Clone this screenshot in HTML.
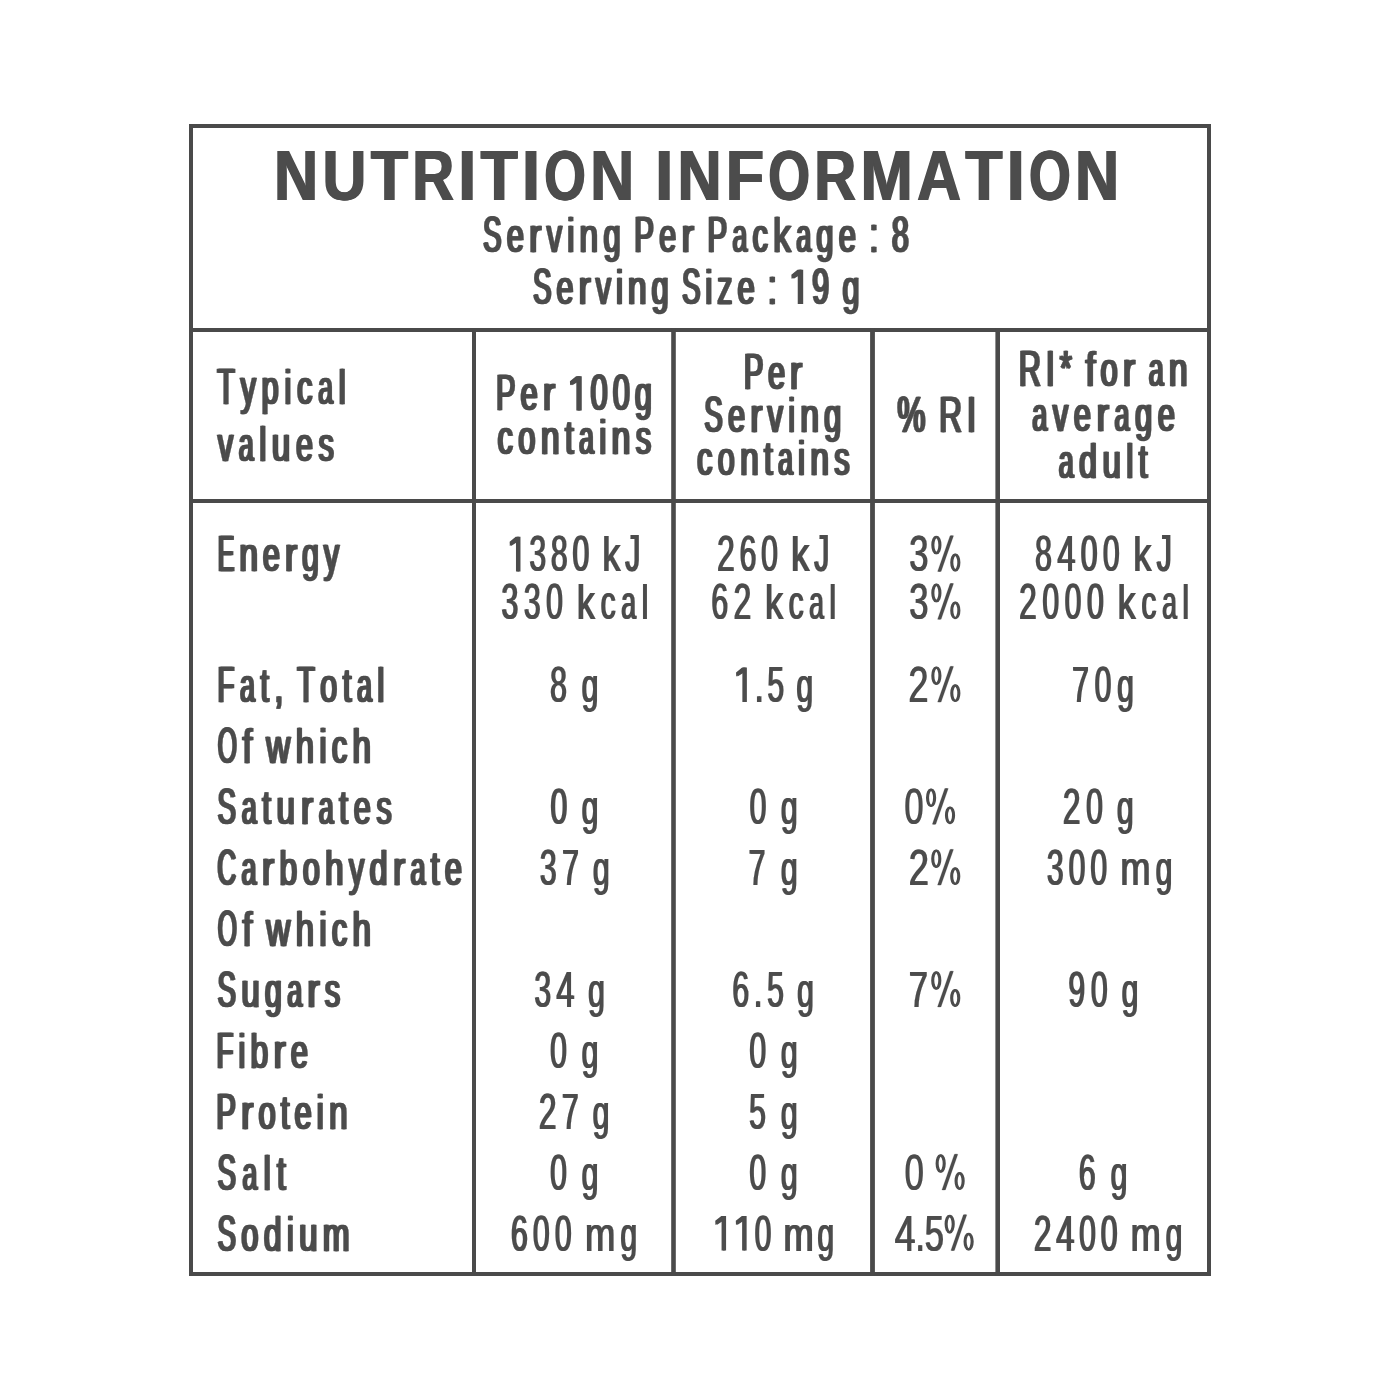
<!DOCTYPE html>
<html><head><meta charset="utf-8"><title>Nutrition Information</title>
<style>
html,body{margin:0;padding:0;background:#fff;}
body{width:1400px;height:1400px;overflow:hidden;}
svg{display:block;filter:grayscale(100%);}
text{font-family:"Liberation Sans",sans-serif;font-kerning:none;}
</style></head>
<body>
<svg width="1400" height="1400" viewBox="0 0 1400 1400">
<rect x="0" y="0" width="1400" height="1400" fill="#ffffff"/>
<g fill="#4a4a4a">
<rect x="189" y="124" width="1022" height="4"/>
<rect x="189" y="1272" width="1022" height="4"/>
<rect x="189" y="124" width="4" height="1152"/>
<rect x="1207" y="124" width="4" height="1152"/>
<rect x="189" y="328" width="1022" height="4"/>
<rect x="189" y="499" width="1022" height="4"/>
<rect x="472" y="328" width="4" height="948"/>
<rect x="671.2" y="328" width="4.6" height="948"/>
<rect x="870.1" y="328" width="4.8" height="948"/>
<rect x="995.4" y="328" width="4.6" height="948"/>
</g>
<g fill="#4c4c4e">
<g id="g0" font-weight="bold">
<text transform="translate(273.36 199.70) scale(0.8700 1.0)" font-size="69.8">N</text>
<text transform="translate(321.64 199.70) scale(0.8700 1.0)" font-size="69.8">U</text>
<text transform="translate(369.93 199.70) scale(0.8700 1.0)" font-size="69.8">T</text>
<text transform="translate(411.46 199.70) scale(0.8265 1.0)" font-size="69.8">R</text>
<text transform="translate(457.56 199.70) scale(0.9135 1.0)" font-size="69.8">I</text>
<text transform="translate(479.71 199.70) scale(0.8700 1.0)" font-size="69.8">T</text>
<text transform="translate(521.23 199.70) scale(0.9135 1.0)" font-size="69.8">I</text>
<text transform="translate(543.38 199.70) scale(0.7656 1.0)" font-size="69.8">O</text>
<text transform="translate(589.38 199.70) scale(0.8700 1.0)" font-size="69.8">N</text>
<text transform="translate(654.54 199.70) scale(0.9135 1.0)" font-size="69.8">I</text>
<text transform="translate(676.69 199.70) scale(0.8700 1.0)" font-size="69.8">N</text>
<text transform="translate(724.98 199.70) scale(0.8961 1.0)" font-size="69.8">F</text>
<text transform="translate(767.62 199.70) scale(0.7656 1.0)" font-size="69.8">O</text>
<text transform="translate(813.62 199.70) scale(0.8265 1.0)" font-size="69.8">R</text>
<text transform="translate(859.72 199.70) scale(0.8961 1.0)" font-size="69.8">M</text>
<text transform="translate(916.25 199.70) scale(0.8700 1.0)" font-size="69.8">A</text>
<text transform="translate(964.54 199.70) scale(0.8700 1.0)" font-size="69.8">T</text>
<text transform="translate(1006.07 199.70) scale(0.9135 1.0)" font-size="69.8">I</text>
<text transform="translate(1028.22 199.70) scale(0.7656 1.0)" font-size="69.8">O</text>
<text transform="translate(1074.22 199.70) scale(0.8700 1.0)" font-size="69.8">N</text>
</g>
<use href="#g0" x="0.850" y="0"/>
<use href="#g0" x="1.700" y="0"/>
<g id="g1" font-weight="normal" stroke="#4c4c4e" stroke-width="0.5" stroke-linejoin="round">
<text transform="translate(482.05 251.90) scale(0.5400 1.0)" font-size="50.8">S</text>
<text transform="translate(505.73 251.90) scale(0.6000 0.94)" font-size="50.8">e</text>
<text transform="translate(528.07 251.90) scale(0.7200 0.94)" font-size="50.8">r</text>
<text transform="translate(545.63 251.90) scale(0.6000 0.94)" font-size="50.8">v</text>
<text transform="translate(566.25 251.90) scale(0.6000 0.94)" font-size="50.8">i</text>
<text transform="translate(578.41 251.90) scale(0.6600 0.94)" font-size="50.8">n</text>
<text transform="translate(602.43 251.90) scale(0.6000 0.94)" font-size="50.8">g</text>
<text transform="translate(633.24 251.90) scale(0.5760 1.0)" font-size="50.8">P</text>
<text transform="translate(658.14 251.90) scale(0.6000 0.94)" font-size="50.8">e</text>
<text transform="translate(680.47 251.90) scale(0.7200 0.94)" font-size="50.8">r</text>
<text transform="translate(706.50 251.90) scale(0.5760 1.0)" font-size="50.8">P</text>
<text transform="translate(731.40 251.90) scale(0.5220 0.94)" font-size="50.8">a</text>
<text transform="translate(751.53 251.90) scale(0.6000 0.94)" font-size="50.8">c</text>
<text transform="translate(772.15 251.90) scale(0.6960 0.94)" font-size="50.8">k</text>
<text transform="translate(795.21 251.90) scale(0.5220 0.94)" font-size="50.8">a</text>
<text transform="translate(815.34 251.90) scale(0.6000 0.94)" font-size="50.8">g</text>
<text transform="translate(837.68 251.90) scale(0.6000 0.94)" font-size="50.8">e</text>
<text transform="translate(868.48 251.90) scale(0.6000 1.0)" font-size="50.8">:</text>
<text transform="translate(890.80 251.90) scale(0.6000 0.975)" font-size="50.8">8</text>
<text transform="translate(532.05 303.90) scale(0.5400 1.0)" font-size="50.8">S</text>
<text transform="translate(555.41 303.90) scale(0.6000 0.94)" font-size="50.8">e</text>
<text transform="translate(577.42 303.90) scale(0.7200 0.94)" font-size="50.8">r</text>
<text transform="translate(594.66 303.90) scale(0.6000 0.94)" font-size="50.8">v</text>
<text transform="translate(614.95 303.90) scale(0.6000 0.94)" font-size="50.8">i</text>
<text transform="translate(626.78 303.90) scale(0.6600 0.94)" font-size="50.8">n</text>
<text transform="translate(650.49 303.90) scale(0.6000 0.94)" font-size="50.8">g</text>
<text transform="translate(680.97 303.90) scale(0.5400 1.0)" font-size="50.8">S</text>
<text transform="translate(704.32 303.90) scale(0.6000 0.94)" font-size="50.8">i</text>
<text transform="translate(716.15 303.90) scale(0.6000 0.94)" font-size="50.8">z</text>
<text transform="translate(736.45 303.90) scale(0.6000 0.94)" font-size="50.8">e</text>
<text transform="translate(766.93 303.90) scale(0.6000 1.0)" font-size="50.8">:</text>
<path transform="translate(788.92 303.90) scale(0.01488 -0.02418)" d="M811 0L593 0L593 1200L175 1040L163 1210L575 1409L811 1409Z"/>
<text transform="translate(810.93 303.90) scale(0.6000 0.975)" font-size="50.8">9</text>
<text transform="translate(841.41 303.90) scale(0.6000 0.94)" font-size="50.8">g</text>
<text transform="translate(216.28 403.60) scale(0.5580 1.0)" font-size="50.8">T</text>
<text transform="translate(239.47 403.60) scale(0.6000 0.94)" font-size="50.8">y</text>
<text transform="translate(260.58 403.60) scale(0.6000 0.94)" font-size="50.8">p</text>
<text transform="translate(283.40 403.60) scale(0.6000 0.94)" font-size="50.8">i</text>
<text transform="translate(296.04 403.60) scale(0.6000 0.94)" font-size="50.8">c</text>
<text transform="translate(317.15 403.60) scale(0.5220 0.94)" font-size="50.8">a</text>
<text transform="translate(337.77 403.60) scale(0.6000 0.94)" font-size="50.8">l</text>
<text transform="translate(216.85 460.70) scale(0.6000 0.94)" font-size="50.8">v</text>
<text transform="translate(237.84 460.70) scale(0.5220 0.94)" font-size="50.8">a</text>
<text transform="translate(258.34 460.70) scale(0.6000 0.94)" font-size="50.8">l</text>
<text transform="translate(270.86 460.70) scale(0.6480 0.94)" font-size="50.8">u</text>
<text transform="translate(294.92 460.70) scale(0.6000 0.94)" font-size="50.8">e</text>
<text transform="translate(317.62 460.70) scale(0.6000 0.94)" font-size="50.8">s</text>
<text transform="translate(494.91 410.40) scale(0.5760 1.0)" font-size="50.8">P</text>
<text transform="translate(519.58 410.40) scale(0.6000 0.94)" font-size="50.8">e</text>
<text transform="translate(541.69 410.40) scale(0.7200 0.94)" font-size="50.8">r</text>
<path transform="translate(567.49 410.40) scale(0.01488 -0.02418)" d="M811 0L593 0L593 1200L175 1040L163 1210L575 1409L811 1409Z"/>
<text transform="translate(589.60 410.40) scale(0.6000 0.975)" font-size="50.8">0</text>
<text transform="translate(611.70 410.40) scale(0.6000 0.975)" font-size="50.8">0</text>
<text transform="translate(633.81 410.40) scale(0.6000 0.94)" font-size="50.8">g</text>
<text transform="translate(496.53 453.90) scale(0.6000 0.94)" font-size="50.8">c</text>
<text transform="translate(517.30 453.90) scale(0.6000 0.94)" font-size="50.8">o</text>
<text transform="translate(539.79 453.90) scale(0.6600 0.94)" font-size="50.8">n</text>
<text transform="translate(563.96 453.90) scale(0.6000 0.94)" font-size="50.8">t</text>
<text transform="translate(577.96 453.90) scale(0.5220 0.94)" font-size="50.8">a</text>
<text transform="translate(598.24 453.90) scale(0.6000 0.94)" font-size="50.8">i</text>
<text transform="translate(610.55 453.90) scale(0.6600 0.94)" font-size="50.8">n</text>
<text transform="translate(634.72 453.90) scale(0.6000 0.94)" font-size="50.8">s</text>
<text transform="translate(742.81 388.60) scale(0.5760 1.0)" font-size="50.8">P</text>
<text transform="translate(767.07 388.60) scale(0.6000 0.94)" font-size="50.8">e</text>
<text transform="translate(788.77 388.60) scale(0.7200 0.94)" font-size="50.8">r</text>
<text transform="translate(703.35 432.10) scale(0.5400 1.0)" font-size="50.8">S</text>
<text transform="translate(726.93 432.10) scale(0.6000 0.94)" font-size="50.8">e</text>
<text transform="translate(749.16 432.10) scale(0.7200 0.94)" font-size="50.8">r</text>
<text transform="translate(766.62 432.10) scale(0.6000 0.94)" font-size="50.8">v</text>
<text transform="translate(787.13 432.10) scale(0.6000 0.94)" font-size="50.8">i</text>
<text transform="translate(799.18 432.10) scale(0.6600 0.94)" font-size="50.8">n</text>
<text transform="translate(823.11 432.10) scale(0.6000 0.94)" font-size="50.8">g</text>
<text transform="translate(696.03 475.40) scale(0.6000 0.94)" font-size="50.8">c</text>
<text transform="translate(716.67 475.40) scale(0.6000 0.94)" font-size="50.8">o</text>
<text transform="translate(739.03 475.40) scale(0.6600 0.94)" font-size="50.8">n</text>
<text transform="translate(763.08 475.40) scale(0.6000 0.94)" font-size="50.8">t</text>
<text transform="translate(776.95 475.40) scale(0.5220 0.94)" font-size="50.8">a</text>
<text transform="translate(797.10 475.40) scale(0.6000 0.94)" font-size="50.8">i</text>
<text transform="translate(809.27 475.40) scale(0.6600 0.94)" font-size="50.8">n</text>
<text transform="translate(833.32 475.40) scale(0.6000 0.94)" font-size="50.8">s</text>
<text transform="translate(896.31 432.10) scale(0.6200 1.0)" font-size="50.8">%</text>
<text transform="translate(938.14 432.10) scale(0.6200 1.0)" font-size="50.8">R</text>
<text transform="translate(965.96 432.10) scale(0.6200 1.0)" font-size="50.8">I</text>
<text transform="translate(1017.71 386.40) scale(0.6000 1.0)" font-size="50.8">R</text>
<text transform="translate(1045.04 386.40) scale(0.6000 1.0)" font-size="50.8">I</text>
<text transform="translate(1058.82 386.40) scale(0.6000 1.0)" font-size="50.8">*</text>
<text transform="translate(1084.47 386.40) scale(0.6900 0.94)" font-size="50.8">f</text>
<text transform="translate(1099.52 386.40) scale(0.6000 0.94)" font-size="50.8">o</text>
<text transform="translate(1121.79 386.40) scale(0.7200 0.94)" font-size="50.8">r</text>
<text transform="translate(1147.75 386.40) scale(0.5220 0.94)" font-size="50.8">a</text>
<text transform="translate(1167.81 386.40) scale(0.6600 0.94)" font-size="50.8">n</text>
<text transform="translate(1031.19 430.50) scale(0.5220 0.94)" font-size="50.8">a</text>
<text transform="translate(1051.74 430.50) scale(0.6000 0.94)" font-size="50.8">v</text>
<text transform="translate(1072.77 430.50) scale(0.6000 0.94)" font-size="50.8">e</text>
<text transform="translate(1095.52 430.50) scale(0.7200 0.94)" font-size="50.8">r</text>
<text transform="translate(1113.50 430.50) scale(0.5220 0.94)" font-size="50.8">a</text>
<text transform="translate(1134.05 430.50) scale(0.6000 0.94)" font-size="50.8">g</text>
<text transform="translate(1156.80 430.50) scale(0.6000 0.94)" font-size="50.8">e</text>
<text transform="translate(1057.69 477.90) scale(0.5220 0.94)" font-size="50.8">a</text>
<text transform="translate(1078.04 477.90) scale(0.6300 0.94)" font-size="50.8">d</text>
<text transform="translate(1101.44 477.90) scale(0.6480 0.94)" font-size="50.8">u</text>
<text transform="translate(1125.34 477.90) scale(0.6000 0.94)" font-size="50.8">l</text>
<text transform="translate(1137.72 477.90) scale(0.6000 0.94)" font-size="50.8">t</text>
<text transform="translate(216.77 571.40) scale(0.4860 1.0)" font-size="50.8">E</text>
<text transform="translate(238.21 571.40) scale(0.6600 0.94)" font-size="50.8">n</text>
<text transform="translate(261.82 571.40) scale(0.6000 0.94)" font-size="50.8">e</text>
<text transform="translate(283.74 571.40) scale(0.7200 0.94)" font-size="50.8">r</text>
<text transform="translate(300.89 571.40) scale(0.6000 0.94)" font-size="50.8">g</text>
<text transform="translate(322.81 571.40) scale(0.6000 0.94)" font-size="50.8">y</text>
<text transform="translate(216.56 702.10) scale(0.5400 1.0)" font-size="50.8">F</text>
<text transform="translate(238.99 702.10) scale(0.5220 0.94)" font-size="50.8">a</text>
<text transform="translate(259.42 702.10) scale(0.6000 0.94)" font-size="50.8">t</text>
<text transform="translate(273.56 702.10) scale(0.6000 1.0)" font-size="50.8">,</text>
<text transform="translate(296.18 702.10) scale(0.5580 1.0)" font-size="50.8">T</text>
<text transform="translate(319.17 702.10) scale(0.6000 0.94)" font-size="50.8">o</text>
<text transform="translate(341.80 702.10) scale(0.6000 0.94)" font-size="50.8">t</text>
<text transform="translate(355.95 702.10) scale(0.5220 0.94)" font-size="50.8">a</text>
<text transform="translate(376.37 702.10) scale(0.6000 0.94)" font-size="50.8">l</text>
<text transform="translate(216.66 763.00) scale(0.4860 1.0)" font-size="50.8">O</text>
<text transform="translate(241.39 763.00) scale(0.6900 0.94)" font-size="50.8">f</text>
<text transform="translate(265.13 763.00) scale(0.6540 0.94)" font-size="50.8">w</text>
<text transform="translate(294.65 763.00) scale(0.6480 0.94)" font-size="50.8">h</text>
<text transform="translate(318.49 763.00) scale(0.6000 0.94)" font-size="50.8">i</text>
<text transform="translate(330.79 763.00) scale(0.6000 0.94)" font-size="50.8">c</text>
<text transform="translate(351.55 763.00) scale(0.6480 0.94)" font-size="50.8">h</text>
<text transform="translate(216.55 824.20) scale(0.5400 1.0)" font-size="50.8">S</text>
<text transform="translate(240.69 824.20) scale(0.5220 0.94)" font-size="50.8">a</text>
<text transform="translate(261.27 824.20) scale(0.6000 0.94)" font-size="50.8">t</text>
<text transform="translate(275.58 824.20) scale(0.6480 0.94)" font-size="50.8">u</text>
<text transform="translate(299.73 824.20) scale(0.7200 0.94)" font-size="50.8">r</text>
<text transform="translate(317.74 824.20) scale(0.5220 0.94)" font-size="50.8">a</text>
<text transform="translate(338.33 824.20) scale(0.6000 0.94)" font-size="50.8">t</text>
<text transform="translate(352.63 824.20) scale(0.6000 0.94)" font-size="50.8">e</text>
<text transform="translate(375.42 824.20) scale(0.6000 0.94)" font-size="50.8">s</text>
<text transform="translate(216.35 885.10) scale(0.5100 1.0)" font-size="50.8">C</text>
<text transform="translate(240.54 885.10) scale(0.5220 0.94)" font-size="50.8">a</text>
<text transform="translate(260.76 885.10) scale(0.7200 0.94)" font-size="50.8">r</text>
<text transform="translate(278.41 885.10) scale(0.6300 0.94)" font-size="50.8">b</text>
<text transform="translate(301.69 885.10) scale(0.6000 0.94)" font-size="50.8">o</text>
<text transform="translate(324.11 885.10) scale(0.6480 0.94)" font-size="50.8">h</text>
<text transform="translate(347.89 885.10) scale(0.6000 0.94)" font-size="50.8">y</text>
<text transform="translate(368.61 885.10) scale(0.6300 0.94)" font-size="50.8">d</text>
<text transform="translate(391.88 885.10) scale(0.7200 0.94)" font-size="50.8">r</text>
<text transform="translate(409.54 885.10) scale(0.5220 0.94)" font-size="50.8">a</text>
<text transform="translate(429.76 885.10) scale(0.6000 0.94)" font-size="50.8">t</text>
<text transform="translate(443.70 885.10) scale(0.6000 0.94)" font-size="50.8">e</text>
<text transform="translate(216.66 946.30) scale(0.4860 1.0)" font-size="50.8">O</text>
<text transform="translate(241.39 946.30) scale(0.6900 0.94)" font-size="50.8">f</text>
<text transform="translate(265.13 946.30) scale(0.6540 0.94)" font-size="50.8">w</text>
<text transform="translate(294.65 946.30) scale(0.6480 0.94)" font-size="50.8">h</text>
<text transform="translate(318.49 946.30) scale(0.6000 0.94)" font-size="50.8">i</text>
<text transform="translate(330.79 946.30) scale(0.6000 0.94)" font-size="50.8">c</text>
<text transform="translate(351.55 946.30) scale(0.6480 0.94)" font-size="50.8">h</text>
<text transform="translate(216.55 1006.90) scale(0.5400 1.0)" font-size="50.8">S</text>
<text transform="translate(240.21 1006.90) scale(0.6480 0.94)" font-size="50.8">u</text>
<text transform="translate(263.87 1006.90) scale(0.6000 0.94)" font-size="50.8">g</text>
<text transform="translate(286.18 1006.90) scale(0.5220 0.94)" font-size="50.8">a</text>
<text transform="translate(306.29 1006.90) scale(0.7200 0.94)" font-size="50.8">r</text>
<text transform="translate(323.82 1006.90) scale(0.6000 0.94)" font-size="50.8">s</text>
<text transform="translate(215.46 1068.00) scale(0.5400 1.0)" font-size="50.8">F</text>
<text transform="translate(237.42 1068.00) scale(0.6000 0.94)" font-size="50.8">i</text>
<text transform="translate(249.40 1068.00) scale(0.6300 0.94)" font-size="50.8">b</text>
<text transform="translate(272.41 1068.00) scale(0.7200 0.94)" font-size="50.8">r</text>
<text transform="translate(289.80 1068.00) scale(0.6000 0.94)" font-size="50.8">e</text>
<text transform="translate(215.31 1129.40) scale(0.5760 1.0)" font-size="50.8">P</text>
<text transform="translate(240.12 1129.40) scale(0.7200 0.94)" font-size="50.8">r</text>
<text transform="translate(257.59 1129.40) scale(0.6000 0.94)" font-size="50.8">o</text>
<text transform="translate(279.84 1129.40) scale(0.6000 0.94)" font-size="50.8">t</text>
<text transform="translate(293.60 1129.40) scale(0.6000 0.94)" font-size="50.8">e</text>
<text transform="translate(315.85 1129.40) scale(0.6000 0.94)" font-size="50.8">i</text>
<text transform="translate(327.91 1129.40) scale(0.6600 0.94)" font-size="50.8">n</text>
<text transform="translate(216.55 1189.90) scale(0.5400 1.0)" font-size="50.8">S</text>
<text transform="translate(241.40 1189.90) scale(0.5220 0.94)" font-size="50.8">a</text>
<text transform="translate(262.70 1189.90) scale(0.6000 0.94)" font-size="50.8">l</text>
<text transform="translate(276.02 1189.90) scale(0.6000 0.94)" font-size="50.8">t</text>
<text transform="translate(216.55 1250.50) scale(0.5400 1.0)" font-size="50.8">S</text>
<text transform="translate(240.28 1250.50) scale(0.6000 0.94)" font-size="50.8">o</text>
<text transform="translate(262.65 1250.50) scale(0.6300 0.94)" font-size="50.8">d</text>
<text transform="translate(285.88 1250.50) scale(0.6000 0.94)" font-size="50.8">i</text>
<text transform="translate(298.08 1250.50) scale(0.6480 0.94)" font-size="50.8">u</text>
<text transform="translate(321.81 1250.50) scale(0.6300 0.94)" font-size="50.8">m</text>
</g>
<use href="#g1" x="1.100" y="0"/>
<use href="#g1" x="2.200" y="0"/>
<g id="g2" font-weight="normal" stroke="#4c4c4e" stroke-width="0.2" stroke-linejoin="round">
<path transform="translate(507.25 571.40) scale(0.01471 -0.02452)" d="M811 0L593 0L593 1200L175 1040L163 1210L575 1409L811 1409Z"/>
<text transform="translate(528.78 571.40) scale(0.5850 0.975)" font-size="51.5">3</text>
<text transform="translate(550.31 571.40) scale(0.5850 0.975)" font-size="51.5">8</text>
<text transform="translate(571.84 571.40) scale(0.5850 0.975)" font-size="51.5">0</text>
<text transform="translate(601.74 571.40) scale(0.7020 0.94)" font-size="51.5">k</text>
<text transform="translate(624.59 571.40) scale(0.5850 1.0)" font-size="51.5">J</text>
<text transform="translate(500.85 619.30) scale(0.5850 0.975)" font-size="51.5">3</text>
<text transform="translate(523.20 619.30) scale(0.5850 0.975)" font-size="51.5">3</text>
<text transform="translate(545.55 619.30) scale(0.5850 0.975)" font-size="51.5">0</text>
<text transform="translate(576.26 619.30) scale(0.7020 0.94)" font-size="51.5">k</text>
<text transform="translate(599.93 619.30) scale(0.5850 0.94)" font-size="51.5">c</text>
<text transform="translate(620.59 619.30) scale(0.5148 0.94)" font-size="51.5">a</text>
<text transform="translate(640.92 619.30) scale(0.5850 0.94)" font-size="51.5">l</text>
<text transform="translate(549.55 702.10) scale(0.5850 0.975)" font-size="51.5">8</text>
<text transform="translate(580.98 702.10) scale(0.5850 0.94)" font-size="51.5">g</text>
<text transform="translate(549.85 824.20) scale(0.5850 0.975)" font-size="51.5">0</text>
<text transform="translate(580.98 824.20) scale(0.5850 0.94)" font-size="51.5">g</text>
<text transform="translate(539.15 885.10) scale(0.5850 0.975)" font-size="51.5">3</text>
<text transform="translate(561.48 885.10) scale(0.5850 0.975)" font-size="51.5">7</text>
<text transform="translate(592.18 885.10) scale(0.5850 0.94)" font-size="51.5">g</text>
<text transform="translate(533.75 1006.90) scale(0.5850 0.975)" font-size="51.5">3</text>
<text transform="translate(555.76 1006.90) scale(0.6318 0.975)" font-size="51.5">4</text>
<text transform="translate(587.48 1006.90) scale(0.5850 0.94)" font-size="51.5">g</text>
<text transform="translate(549.55 1068.00) scale(0.5850 0.975)" font-size="51.5">0</text>
<text transform="translate(580.88 1068.00) scale(0.5850 0.94)" font-size="51.5">g</text>
<text transform="translate(538.28 1129.40) scale(0.6142 0.975)" font-size="51.5">2</text>
<text transform="translate(561.31 1129.40) scale(0.5850 0.975)" font-size="51.5">7</text>
<text transform="translate(591.88 1129.40) scale(0.5850 0.94)" font-size="51.5">g</text>
<text transform="translate(549.55 1189.90) scale(0.5850 0.975)" font-size="51.5">0</text>
<text transform="translate(580.88 1189.90) scale(0.5850 0.94)" font-size="51.5">g</text>
<text transform="translate(510.35 1250.50) scale(0.5850 0.975)" font-size="51.5">6</text>
<text transform="translate(532.28 1250.50) scale(0.5850 0.975)" font-size="51.5">0</text>
<text transform="translate(554.20 1250.50) scale(0.5850 0.975)" font-size="51.5">0</text>
<text transform="translate(584.49 1250.50) scale(0.7020 0.94)" font-size="51.5">m</text>
<text transform="translate(619.78 1250.50) scale(0.5850 0.94)" font-size="51.5">g</text>
<text transform="translate(716.38 571.40) scale(0.6142 0.975)" font-size="51.5">2</text>
<text transform="translate(738.88 571.40) scale(0.5850 0.975)" font-size="51.5">6</text>
<text transform="translate(760.55 571.40) scale(0.5850 0.975)" font-size="51.5">0</text>
<text transform="translate(790.60 571.40) scale(0.7020 0.94)" font-size="51.5">k</text>
<text transform="translate(813.59 571.40) scale(0.5850 1.0)" font-size="51.5">J</text>
<text transform="translate(710.65 619.30) scale(0.5850 0.975)" font-size="51.5">6</text>
<text transform="translate(732.92 619.30) scale(0.6143 0.975)" font-size="51.5">2</text>
<text transform="translate(764.40 619.30) scale(0.7020 0.94)" font-size="51.5">k</text>
<text transform="translate(787.99 619.30) scale(0.5850 0.94)" font-size="51.5">c</text>
<text transform="translate(808.56 619.30) scale(0.5148 0.94)" font-size="51.5">a</text>
<text transform="translate(828.82 619.30) scale(0.5850 0.94)" font-size="51.5">l</text>
<path transform="translate(733.65 702.10) scale(0.01471 -0.02452)" d="M811 0L593 0L593 1200L175 1040L163 1210L575 1409L811 1409Z"/>
<text transform="translate(754.33 702.10) scale(0.5850 1.0)" font-size="51.5">.</text>
<text transform="translate(766.63 702.10) scale(0.5850 0.975)" font-size="51.5">5</text>
<text transform="translate(795.68 702.10) scale(0.5850 0.94)" font-size="51.5">g</text>
<text transform="translate(749.05 824.20) scale(0.5850 0.975)" font-size="51.5">0</text>
<text transform="translate(780.18 824.20) scale(0.5850 0.94)" font-size="51.5">g</text>
<text transform="translate(747.95 885.10) scale(0.5850 0.975)" font-size="51.5">7</text>
<text transform="translate(780.18 885.10) scale(0.5850 0.94)" font-size="51.5">g</text>
<text transform="translate(731.65 1006.90) scale(0.5850 0.975)" font-size="51.5">6</text>
<text transform="translate(753.27 1006.90) scale(0.5850 1.0)" font-size="51.5">.</text>
<text transform="translate(766.49 1006.90) scale(0.5850 0.975)" font-size="51.5">5</text>
<text transform="translate(796.48 1006.90) scale(0.5850 0.94)" font-size="51.5">g</text>
<text transform="translate(748.75 1068.00) scale(0.5850 0.975)" font-size="51.5">0</text>
<text transform="translate(780.18 1068.00) scale(0.5850 0.94)" font-size="51.5">g</text>
<text transform="translate(748.45 1129.40) scale(0.5850 0.975)" font-size="51.5">5</text>
<text transform="translate(780.18 1129.40) scale(0.5850 0.94)" font-size="51.5">g</text>
<text transform="translate(748.75 1189.90) scale(0.5850 0.975)" font-size="51.5">0</text>
<text transform="translate(780.18 1189.90) scale(0.5850 0.94)" font-size="51.5">g</text>
<path transform="translate(712.85 1250.50) scale(0.01471 -0.02452)" d="M811 0L593 0L593 1200L175 1040L163 1210L575 1409L811 1409Z"/>
<path transform="translate(733.40 1250.50) scale(0.01471 -0.02452)" d="M811 0L593 0L593 1200L175 1040L163 1210L575 1409L811 1409Z"/>
<text transform="translate(753.95 1250.50) scale(0.5850 0.975)" font-size="51.5">0</text>
<text transform="translate(782.87 1250.50) scale(0.7020 0.94)" font-size="51.5">m</text>
<text transform="translate(816.78 1250.50) scale(0.5850 0.94)" font-size="51.5">g</text>
<text transform="translate(1034.55 571.40) scale(0.5850 0.975)" font-size="51.5">8</text>
<text transform="translate(1056.65 571.40) scale(0.6318 0.975)" font-size="51.5">4</text>
<text transform="translate(1080.09 571.40) scale(0.5850 0.975)" font-size="51.5">0</text>
<text transform="translate(1102.19 571.40) scale(0.5850 0.975)" font-size="51.5">0</text>
<text transform="translate(1132.67 571.40) scale(0.7020 0.94)" font-size="51.5">k</text>
<text transform="translate(1156.09 571.40) scale(0.5850 1.0)" font-size="51.5">J</text>
<text transform="translate(1018.48 619.30) scale(0.6142 0.975)" font-size="51.5">2</text>
<text transform="translate(1041.66 619.30) scale(0.5850 0.975)" font-size="51.5">0</text>
<text transform="translate(1064.01 619.30) scale(0.5850 0.975)" font-size="51.5">0</text>
<text transform="translate(1086.35 619.30) scale(0.5850 0.975)" font-size="51.5">0</text>
<text transform="translate(1117.07 619.30) scale(0.7020 0.94)" font-size="51.5">k</text>
<text transform="translate(1140.73 619.30) scale(0.5850 0.94)" font-size="51.5">c</text>
<text transform="translate(1161.39 619.30) scale(0.5148 0.94)" font-size="51.5">a</text>
<text transform="translate(1181.72 619.30) scale(0.5850 0.94)" font-size="51.5">l</text>
<text transform="translate(1071.45 702.10) scale(0.5850 0.975)" font-size="51.5">7</text>
<text transform="translate(1093.96 702.10) scale(0.5850 0.975)" font-size="51.5">0</text>
<text transform="translate(1116.48 702.10) scale(0.5850 0.94)" font-size="51.5">g</text>
<text transform="translate(1062.28 824.20) scale(0.6142 0.975)" font-size="51.5">2</text>
<text transform="translate(1085.51 824.20) scale(0.5850 0.975)" font-size="51.5">0</text>
<text transform="translate(1116.28 824.20) scale(0.5850 0.94)" font-size="51.5">g</text>
<text transform="translate(1046.15 885.10) scale(0.5850 0.975)" font-size="51.5">3</text>
<text transform="translate(1067.90 885.10) scale(0.5850 0.975)" font-size="51.5">0</text>
<text transform="translate(1089.65 885.10) scale(0.5850 0.975)" font-size="51.5">0</text>
<text transform="translate(1119.77 885.10) scale(0.7020 0.94)" font-size="51.5">m</text>
<text transform="translate(1154.88 885.10) scale(0.5850 0.94)" font-size="51.5">g</text>
<text transform="translate(1067.65 1006.90) scale(0.5850 0.975)" font-size="51.5">9</text>
<text transform="translate(1090.13 1006.90) scale(0.5850 0.975)" font-size="51.5">0</text>
<text transform="translate(1120.98 1006.90) scale(0.5850 0.94)" font-size="51.5">g</text>
<text transform="translate(1078.15 1189.90) scale(0.5850 0.975)" font-size="51.5">6</text>
<text transform="translate(1109.98 1189.90) scale(0.5850 0.94)" font-size="51.5">g</text>
<text transform="translate(1033.18 1250.50) scale(0.6142 0.975)" font-size="51.5">2</text>
<text transform="translate(1055.59 1250.50) scale(0.6318 0.975)" font-size="51.5">4</text>
<text transform="translate(1078.51 1250.50) scale(0.5850 0.975)" font-size="51.5">0</text>
<text transform="translate(1100.09 1250.50) scale(0.5850 0.975)" font-size="51.5">0</text>
<text transform="translate(1130.04 1250.50) scale(0.7020 0.94)" font-size="51.5">m</text>
<text transform="translate(1164.98 1250.50) scale(0.5850 0.94)" font-size="51.5">g</text>
</g>
<use href="#g2" x="1.300" y="0"/>
<g id="g3" font-weight="normal" stroke="#4c4c4e" stroke-width="0.2" stroke-linejoin="round">
<text transform="translate(908.73 571.40) scale(0.6700 0.975)" font-size="51.5">3</text>
<ellipse cx="935.93" cy="545.00" rx="3.54" ry="8.20" fill="none" stroke="#4c4c4e" stroke-width="2.2"/><ellipse cx="954.87" cy="562.50" rx="3.54" ry="7.80" fill="none" stroke="#4c4c4e" stroke-width="2.2"/><path d="M937.60 571.40L940.20 571.40L952.67 535.70L950.07 535.70Z"/>
<text transform="translate(908.73 619.30) scale(0.6700 0.975)" font-size="51.5">3</text>
<ellipse cx="935.93" cy="592.90" rx="3.54" ry="8.20" fill="none" stroke="#4c4c4e" stroke-width="2.2"/><ellipse cx="954.87" cy="610.40" rx="3.54" ry="7.80" fill="none" stroke="#4c4c4e" stroke-width="2.2"/><path d="M937.60 619.30L940.20 619.30L952.67 583.60L950.07 583.60Z"/>
<text transform="translate(907.96 702.10) scale(0.7035 0.975)" font-size="51.5">2</text>
<ellipse cx="935.93" cy="675.70" rx="3.54" ry="8.20" fill="none" stroke="#4c4c4e" stroke-width="2.2"/><ellipse cx="954.87" cy="693.20" rx="3.54" ry="7.80" fill="none" stroke="#4c4c4e" stroke-width="2.2"/><path d="M937.60 702.10L940.20 702.10L952.67 666.40L950.07 666.40Z"/>
<text transform="translate(903.93 824.20) scale(0.6700 0.975)" font-size="51.5">0</text>
<ellipse cx="930.63" cy="797.80" rx="3.54" ry="8.20" fill="none" stroke="#4c4c4e" stroke-width="2.2"/><ellipse cx="949.57" cy="815.30" rx="3.54" ry="7.80" fill="none" stroke="#4c4c4e" stroke-width="2.2"/><path d="M932.30 824.20L934.90 824.20L947.37 788.50L944.77 788.50Z"/>
<text transform="translate(908.26 885.10) scale(0.7035 0.975)" font-size="51.5">2</text>
<ellipse cx="935.83" cy="858.70" rx="3.54" ry="8.20" fill="none" stroke="#4c4c4e" stroke-width="2.2"/><ellipse cx="954.77" cy="876.20" rx="3.54" ry="7.80" fill="none" stroke="#4c4c4e" stroke-width="2.2"/><path d="M937.50 885.10L940.10 885.10L952.57 849.40L949.97 849.40Z"/>
<text transform="translate(908.34 1006.90) scale(0.6700 0.975)" font-size="51.5">7</text>
<ellipse cx="935.83" cy="980.50" rx="3.54" ry="8.20" fill="none" stroke="#4c4c4e" stroke-width="2.2"/><ellipse cx="954.77" cy="998.00" rx="3.54" ry="7.80" fill="none" stroke="#4c4c4e" stroke-width="2.2"/><path d="M937.50 1006.90L940.10 1006.90L952.57 971.20L949.97 971.20Z"/>
<text transform="translate(904.13 1189.90) scale(0.6700 0.975)" font-size="51.5">0</text>
<ellipse cx="940.23" cy="1163.50" rx="3.54" ry="8.20" fill="none" stroke="#4c4c4e" stroke-width="2.2"/><ellipse cx="959.17" cy="1181.00" rx="3.54" ry="7.80" fill="none" stroke="#4c4c4e" stroke-width="2.2"/><path d="M941.90 1189.90L944.50 1189.90L956.97 1154.20L954.37 1154.20Z"/>
<text transform="translate(894.32 1250.50) scale(0.7236 0.975)" font-size="51.5">4</text>
<text transform="translate(914.89 1250.50) scale(0.6700 1.0)" font-size="51.5">.</text>
<text transform="translate(924.32 1250.50) scale(0.6700 0.975)" font-size="51.5">5</text>
<ellipse cx="949.23" cy="1224.10" rx="3.54" ry="8.20" fill="none" stroke="#4c4c4e" stroke-width="2.2"/><ellipse cx="968.17" cy="1241.60" rx="3.54" ry="7.80" fill="none" stroke="#4c4c4e" stroke-width="2.2"/><path d="M950.90 1250.50L953.50 1250.50L965.97 1214.80L963.37 1214.80Z"/>
</g>
<use href="#g3" x="0.900" y="0"/>
</g>
</svg>
</body></html>
